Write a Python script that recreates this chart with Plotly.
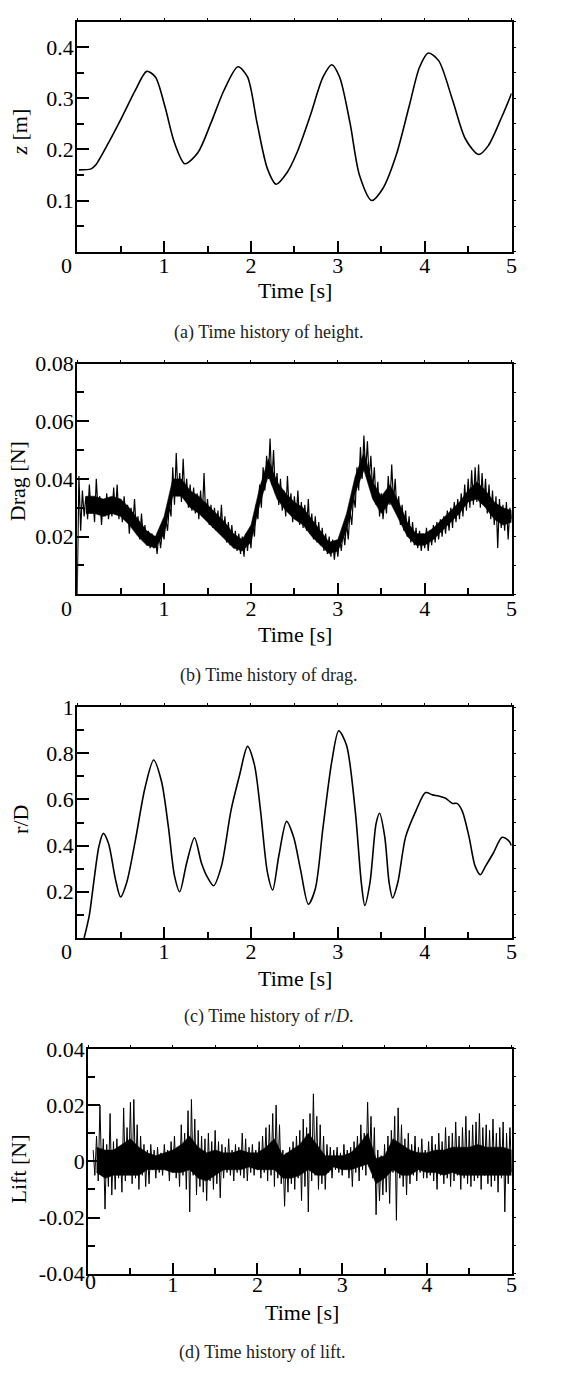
import numpy as np
import plotly.graph_objects as go

# ---------------- data ----------------
# (a) height z [m]
t_z = [0.02, 0.16, 0.21, 0.36, 0.52, 0.67, 0.80, 0.90, 1.01, 1.12, 1.24, 1.39, 1.54, 1.69, 1.85,
       1.96, 2.07, 2.19, 2.29, 2.42, 2.53, 2.68, 2.83, 2.93, 3.02, 3.14, 3.25, 3.39, 3.52, 3.67,
       3.82, 3.94, 4.04, 4.16, 4.32, 4.47, 4.62, 4.73, 4.89, 5.00]
z_val = [0.160, 0.162, 0.169, 0.213, 0.265, 0.316, 0.353, 0.342, 0.284, 0.213, 0.172, 0.194, 0.252,
         0.316, 0.362, 0.342, 0.252, 0.162, 0.132, 0.156, 0.194, 0.265, 0.342, 0.366, 0.342, 0.252,
         0.149, 0.100, 0.124, 0.188, 0.284, 0.361, 0.389, 0.374, 0.297, 0.220, 0.190, 0.207, 0.265,
         0.310]

# (b) drag [N], sampled every 0.02 s from 0.00 to 5.00
drag_val = [
    0.000, 0.041, 0.022, 0.036, 0.027,
    0.034, 0.026, 0.038, 0.028, 0.033,
    0.025, 0.040, 0.029, 0.034, 0.024,
    0.033, 0.027, 0.035, 0.026, 0.032,
    0.027, 0.037, 0.028, 0.038, 0.026,
    0.033, 0.025, 0.034, 0.027, 0.031,
    0.021, 0.030, 0.024, 0.033, 0.022,
    0.027, 0.019, 0.028, 0.020, 0.024,
    0.017, 0.022, 0.016, 0.021, 0.016,
    0.020, 0.014, 0.021, 0.016, 0.022,
    0.019, 0.026, 0.022, 0.031, 0.027,
    0.044, 0.031, 0.049, 0.034, 0.042,
    0.032, 0.047, 0.033, 0.040, 0.030,
    0.038, 0.029, 0.037, 0.028, 0.035,
    0.026, 0.036, 0.027, 0.042, 0.026,
    0.033, 0.024, 0.031, 0.023, 0.030,
    0.022, 0.029, 0.021, 0.031, 0.020,
    0.027, 0.018, 0.025, 0.017, 0.024,
    0.016, 0.022, 0.015, 0.021, 0.014,
    0.020, 0.013, 0.021, 0.015, 0.022,
    0.016, 0.025, 0.020, 0.031, 0.026,
    0.038, 0.030, 0.044, 0.036, 0.048,
    0.040, 0.054, 0.038, 0.050, 0.035,
    0.042, 0.031, 0.040, 0.029, 0.036,
    0.027, 0.041, 0.029, 0.035, 0.025,
    0.034, 0.026, 0.036, 0.024, 0.032,
    0.023, 0.031, 0.022, 0.033, 0.021,
    0.028, 0.019, 0.027, 0.018, 0.025,
    0.017, 0.023, 0.015, 0.021, 0.014,
    0.020, 0.013, 0.019, 0.012, 0.018,
    0.013, 0.020, 0.015, 0.022, 0.017,
    0.025, 0.019, 0.029, 0.024, 0.034,
    0.030, 0.044, 0.036, 0.051, 0.040,
    0.055, 0.042, 0.053, 0.040, 0.048,
    0.036, 0.044, 0.031, 0.039, 0.027,
    0.035, 0.026, 0.033, 0.028, 0.041,
    0.031, 0.045, 0.032, 0.040, 0.028,
    0.034, 0.024, 0.031, 0.022, 0.029,
    0.020, 0.027, 0.018, 0.025, 0.017,
    0.023, 0.016, 0.022, 0.015, 0.021,
    0.016, 0.023, 0.015, 0.022, 0.017,
    0.024, 0.018, 0.025, 0.019, 0.026,
    0.020, 0.027, 0.021, 0.029, 0.022,
    0.030, 0.023, 0.032, 0.025, 0.033,
    0.026, 0.035, 0.027, 0.038, 0.029,
    0.040, 0.030, 0.043, 0.031, 0.044,
    0.032, 0.045, 0.030, 0.042, 0.031,
    0.040, 0.028, 0.038, 0.026, 0.036,
    0.024, 0.034, 0.016, 0.033, 0.023,
    0.031, 0.022, 0.032, 0.019, 0.030,
    0.026,
]
# dense core of the noisy bands, every 0.1 s from 0.1 to 5.0
t_band = [0.1, 0.2, 0.3, 0.4, 0.5, 0.6, 0.7, 0.8, 0.9, 1.0,
          1.1, 1.2, 1.3, 1.4, 1.5, 1.6, 1.7, 1.8, 1.9, 2.0,
          2.1, 2.2, 2.3, 2.4, 2.5, 2.6, 2.7, 2.8, 2.9, 3.0,
          3.1, 3.2, 3.3, 3.4, 3.5, 3.6, 3.7, 3.8, 3.9, 4.0,
          4.1, 4.2, 4.3, 4.4, 4.5, 4.6, 4.7, 4.8, 4.9, 5.0]
drag_hi = [0.034, 0.034, 0.033, 0.034, 0.033, 0.030, 0.026, 0.022, 0.020, 0.027,
           0.040, 0.040, 0.036, 0.034, 0.031, 0.028, 0.025, 0.021, 0.019, 0.024,
           0.037, 0.047, 0.039, 0.035, 0.032, 0.030, 0.026, 0.022, 0.018, 0.019,
           0.028, 0.041, 0.049, 0.039, 0.034, 0.038, 0.032, 0.025, 0.021, 0.021,
           0.023, 0.026, 0.029, 0.032, 0.036, 0.039, 0.036, 0.032, 0.030, 0.029]
drag_lo = [0.028, 0.028, 0.027, 0.028, 0.027, 0.024, 0.020, 0.017, 0.016, 0.021,
           0.034, 0.034, 0.030, 0.028, 0.025, 0.022, 0.019, 0.016, 0.015, 0.018,
           0.031, 0.041, 0.033, 0.029, 0.026, 0.024, 0.020, 0.017, 0.014, 0.015,
           0.022, 0.035, 0.043, 0.033, 0.028, 0.032, 0.026, 0.020, 0.017, 0.017,
           0.019, 0.022, 0.025, 0.028, 0.032, 0.033, 0.030, 0.026, 0.024, 0.025]

# (c) r/D
t_r = [0.08, 0.14, 0.19, 0.25, 0.30, 0.36, 0.44, 0.50, 0.57, 0.67, 0.78, 0.88, 0.97, 1.05, 1.12,
       1.18, 1.26, 1.35, 1.43, 1.50, 1.57, 1.66, 1.77, 1.87, 1.96, 2.04, 2.11, 2.19, 2.25, 2.32,
       2.41, 2.49, 2.57, 2.66, 2.74, 2.83, 2.93, 3.01, 3.10, 3.20, 3.27, 3.31, 3.37, 3.44, 3.48,
       3.54, 3.59, 3.63, 3.69, 3.78, 3.90, 4.01, 4.09, 4.16, 4.24, 4.32, 4.37, 4.43, 4.51, 4.58,
       4.64, 4.70, 4.79, 4.89, 4.96, 5.00]
r_val = [0.000, 0.099, 0.240, 0.396, 0.453, 0.410, 0.255, 0.177, 0.240, 0.424, 0.650, 0.771, 0.679,
         0.480, 0.269, 0.200, 0.325, 0.434, 0.325, 0.262, 0.226, 0.311, 0.552, 0.707, 0.830, 0.750,
         0.552, 0.283, 0.208, 0.354, 0.505, 0.438, 0.297, 0.146, 0.212, 0.481, 0.764, 0.898, 0.835,
         0.552, 0.240, 0.141, 0.240, 0.495, 0.540, 0.438, 0.240, 0.173, 0.240, 0.438, 0.552, 0.630,
         0.620, 0.615, 0.605, 0.583, 0.583, 0.552, 0.438, 0.311, 0.274, 0.311, 0.368, 0.436, 0.424,
         0.400]

# (d) lift [N], sampled every 0.02 s from 0.00 to 5.00
lift_val = [
    None, None, None, 0.004, -0.005,
    0.009, -0.007, 0.020, -0.004, 0.008,
    -0.017, 0.006, -0.009, 0.017, -0.012,
    0.007, -0.010, 0.008, -0.006, 0.005,
    -0.011, 0.019, -0.007, 0.012, -0.004,
    0.021, -0.008, 0.022, -0.006, 0.013,
    -0.010, 0.009, -0.005, 0.006, -0.009,
    0.004, -0.008, 0.006, -0.003, 0.004,
    -0.006, 0.005, -0.004, 0.003, -0.005,
    0.006, -0.003, 0.004, -0.007, 0.007,
    -0.004, 0.009, -0.006, 0.005, -0.009,
    0.013, -0.005, 0.010, -0.010, 0.018,
    -0.018, 0.022, -0.005, 0.015, -0.012,
    0.011, -0.009, 0.009, -0.011, 0.008,
    -0.014, 0.010, -0.007, 0.007, -0.010,
    0.011, -0.008, 0.007, -0.013, 0.006,
    -0.006, 0.005, -0.004, 0.008, -0.005,
    0.004, -0.007, 0.006, -0.004, 0.005,
    -0.005, 0.010, -0.006, 0.008, -0.007,
    0.005, -0.004, 0.006, -0.005, 0.004,
    -0.003, 0.007, -0.006, 0.009, -0.004,
    0.012, -0.007, 0.013, -0.005, 0.017,
    -0.009, 0.020, -0.006, 0.013, -0.008,
    0.004, -0.016, 0.003, -0.011, 0.005,
    -0.008, 0.007, -0.010, 0.009, -0.006,
    0.011, -0.014, 0.015, -0.009, 0.012,
    -0.018, 0.017, -0.007, 0.024, -0.005,
    0.016, -0.010, 0.013, -0.008, 0.009,
    -0.010, 0.006, -0.004, 0.005, -0.006,
    0.004, -0.003, 0.005, -0.004, 0.003,
    -0.005, 0.006, -0.003, 0.004, -0.006,
    0.005, -0.009, 0.007, -0.004, 0.009,
    -0.007, 0.013, -0.003, 0.010, -0.005,
    0.021, -0.002, 0.016, -0.006, 0.012,
    -0.019, 0.004, -0.014, 0.002, -0.012,
    0.006, -0.011, 0.009, -0.015, 0.011,
    -0.004, 0.016, -0.021, 0.019, -0.006,
    0.013, -0.009, 0.008, -0.012, 0.010,
    -0.008, 0.006, -0.005, 0.009, -0.007,
    0.005, -0.004, 0.008, -0.006, 0.004,
    -0.006, 0.007, -0.005, 0.009, -0.007,
    0.006, -0.010, 0.010, -0.005, 0.007,
    -0.008, 0.012, -0.006, 0.009, -0.009,
    0.010, -0.007, 0.014, -0.005, 0.009,
    -0.010, 0.012, -0.006, 0.016, -0.008,
    0.011, -0.009, 0.013, -0.007, 0.014,
    -0.006, 0.017, -0.010, 0.012, -0.005,
    0.013, -0.008, 0.011, -0.009, 0.015,
    -0.007, 0.010, -0.011, 0.012, -0.006,
    0.014, -0.018, 0.010, -0.008, 0.012,
    -0.004,
]
lift_hi = [0.005, 0.004, 0.004, 0.006, 0.008, 0.005, 0.003, 0.002, 0.003, 0.004,
           0.006, 0.009, 0.005, 0.003, 0.004, 0.003, 0.003, 0.004, 0.003, 0.003,
           0.005, 0.008, 0.002, 0.004, 0.006, 0.010, 0.006, 0.002, 0.002, 0.002,
           0.003, 0.006, 0.010, 0.001, 0.002, 0.008, 0.006, 0.004, 0.003, 0.003,
           0.004, 0.004, 0.005, 0.005, 0.005, 0.006, 0.005, 0.005, 0.005, 0.004]
lift_lo = [-0.004, -0.006, -0.005, -0.005, -0.005, -0.005, -0.003, -0.003, -0.003, -0.004,
           -0.004, -0.003, -0.006, -0.007, -0.005, -0.003, -0.003, -0.003, -0.002, -0.003,
           -0.003, -0.003, -0.006, -0.006, -0.005, -0.003, -0.005, -0.005, -0.002, -0.003,
           -0.003, -0.002, -0.001, -0.008, -0.006, -0.003, -0.005, -0.005, -0.003, -0.004,
           -0.004, -0.005, -0.004, -0.005, -0.005, -0.005, -0.005, -0.005, -0.005, -0.005]

t_grid = np.round(np.arange(len(drag_val)) * 0.02, 2)

x_ticks = [1, 2, 3, 4, 5]
x_minor = [0.5, 1.5, 2.5, 3.5, 4.5]
y_a_ticks = [0.1, 0.2, 0.3, 0.4]
y_a_text = ["0.1", "0.2", "0.3", "0.4"]
y_b_ticks = [0.02, 0.04, 0.06, 0.08]
y_b_text = ["0.02", "0.04", "0.06", "0.08"]
y_c_ticks = [0.2, 0.4, 0.6, 0.8, 1.0]
y_c_text = ["0.2", "0.4", "0.6", "0.8", "1"]
y_d_ticks = [-0.04, -0.02, 0, 0.02, 0.04]
y_d_text = ["-0.04", "-0.02", "0", "0.02", "0.04"]

# ---------------- layout helpers ----------------
W, H = 576, 1380
FONT = "Liberation Serif, Times New Roman, serif"

def px(x):
    return x / W

def py(y):
    return 1 - y / H

panels = [
    dict(xl=78, xr=517, top=10, bot=244, yr=[0, 0.45], yt=y_a_ticks, ytx=y_a_text, ym=0.05, xso=-7),
    dict(xl=78, xr=517, top=358, bot=593, yr=[0, 0.08], yt=y_b_ticks, ytx=y_b_text, ym=0.01, xso=-7),
    dict(xl=78, xr=517, top=708, bot=943, yr=[0, 1.0], yt=y_c_ticks, ytx=y_c_text, ym=0.1, xso=-7),
    dict(xl=89, xr=517, top=1056, bot=1285, yr=[-0.04, 0.04], yt=y_d_ticks, ytx=y_d_text, ym=0.01, xso=-10),
]

fig = go.Figure()

fig.add_trace(go.Scatter(x=t_z, y=z_val, mode="lines",
                         line=dict(color="black", width=1.6, shape="spline", smoothing=0.8),
                         xaxis="x", yaxis="y", showlegend=False))
fig.add_trace(go.Scatter(x=t_band, y=drag_lo, mode="lines", line=dict(color="black", width=0.5),
                         xaxis="x2", yaxis="y2", showlegend=False))
fig.add_trace(go.Scatter(x=t_band, y=drag_hi, mode="lines", line=dict(color="black", width=0.5),
                         fill="tonexty", fillcolor="black", xaxis="x2", yaxis="y2", showlegend=False))
fig.add_trace(go.Scatter(x=t_grid, y=drag_val, mode="lines", line=dict(color="black", width=1.2),
                         xaxis="x2", yaxis="y2", showlegend=False))
fig.add_trace(go.Scatter(x=t_r, y=r_val, mode="lines",
                         line=dict(color="black", width=1.6, shape="spline", smoothing=0.8),
                         xaxis="x3", yaxis="y3", showlegend=False))
fig.add_trace(go.Scatter(x=t_band, y=lift_lo, mode="lines", line=dict(color="black", width=0.5),
                         xaxis="x4", yaxis="y4", showlegend=False))
fig.add_trace(go.Scatter(x=t_band, y=lift_hi, mode="lines", line=dict(color="black", width=0.5),
                         fill="tonexty", fillcolor="black", xaxis="x4", yaxis="y4", showlegend=False))
fig.add_trace(go.Scatter(x=t_grid, y=lift_val, mode="lines", line=dict(color="black", width=1.0),
                         xaxis="x4", yaxis="y4", showlegend=False, connectgaps=False))

layout = dict(
    width=W, height=H,
    margin=dict(l=0, r=0, t=0, b=0),
    paper_bgcolor="white", plot_bgcolor="white",
    font=dict(family=FONT, size=22, color="black"),
    showlegend=False,
)

for i, p in enumerate(panels):
    n = i + 1
    sx = "" if n == 1 else str(n)
    xd = [px(p["xl"]), px(p["xr"])]
    yd = [py(p["bot"]), py(p["top"])]
    layout["xaxis" + sx] = dict(
        domain=xd, anchor="y" + sx, range=[0, 5],
        tickmode="array", tickvals=x_ticks, ticktext=[str(v) for v in x_ticks],
        ticks="inside", ticklen=11, tickwidth=1.6, tickcolor="black",
        minor=dict(tickmode="array", tickvals=x_minor, ticks="inside",
                   ticklen=6, tickwidth=1.6, tickcolor="black"),
        showline=True, linewidth=2, linecolor="black", mirror=True,
        showgrid=False, zeroline=False,
        tickfont=dict(family=FONT, size=22, color="black"),
        ticklabelstandoff=p["xso"],
    )
    layout["yaxis" + sx] = dict(
        domain=yd, anchor="x" + sx, range=p["yr"],
        tickmode="array", tickvals=p["yt"], ticktext=p["ytx"],
        ticks="inside", ticklen=12, tickwidth=1.6, tickcolor="black",
        minor=dict(dtick=p["ym"], tick0=0, ticks="inside", ticklen=7, tickwidth=1.6, tickcolor="black"),
        showline=True, linewidth=2, linecolor="black", mirror=True,
        showgrid=False, zeroline=False,
        tickfont=dict(family=FONT, size=22, color="black"),
        ticklabelstandoff=-3,
    )
    ox = "x" + str(n + 4)
    oy = "y" + str(n + 4)
    layout["xaxis" + str(n + 4)] = dict(
        overlaying="x" + sx if n > 1 else "x", anchor=oy, side="top", range=[0, 5],
        domain=xd, tickmode="linear", tick0=0, dtick=0.5,
        ticks="outside", ticklen=3, tickwidth=1.2, tickcolor="black",
        showticklabels=False, showline=False, showgrid=False, zeroline=False,
    )
    layout["yaxis" + str(n + 4)] = dict(
        overlaying="y" + sx if n > 1 else "y", anchor=ox, side="right", range=p["yr"],
        domain=yd, tickmode="linear", tick0=p["yr"][0], dtick=p["ym"],
        ticks="outside", ticklen=3, tickwidth=1.2, tickcolor="black",
        showticklabels=False, showline=False, showgrid=False, zeroline=False,
    )
    fig.add_trace(go.Scatter(x=[], y=[], mode="lines", xaxis=ox, yaxis=oy, showlegend=False, hoverinfo="skip"))

fig.update_layout(**layout)

annotations = []

def ann(text, x, y, size=22, color="black", angle=0):
    annotations.append(dict(text=text, x=px(x), y=py(y), xref="paper", yref="paper",
                            showarrow=False, xanchor="center", yanchor="middle",
                            textangle=angle, font=dict(family=FONT, size=size, color=color)))

# x "0" labels at the corners
ann("0", 67, 258)
ann("0", 67, 607)
ann("0", 67, 957)
ann("0", 91, 1293)

# axis titles
ann("Time [s]", 298, 284)
ann("Time [s]", 298, 634)
ann("Time [s]", 298, 984)
ann("Time [s]", 305, 1324)
ann("<i>z</i> [m]", 20, 122, angle=-90)
ann("Drag [N]", 18, 478, angle=-90)
ann("r/D", 20, 822, angle=-90)
ann("Lift [N]", 19, 1178, angle=-90)

# captions
ann("(a) Time history of height.", 272, 326, size=18, color="#222")
ann("(b) Time history of drag.", 272, 676, size=18, color="#222")
ann("(c) Time history of <i>r</i>/<i>D</i>.", 272, 1023, size=18, color="#222")
ann("(d) Time history of lift.", 265, 1365, size=18, color="#222")

fig.update_layout(annotations=annotations)
fig.write_html("out.html")
